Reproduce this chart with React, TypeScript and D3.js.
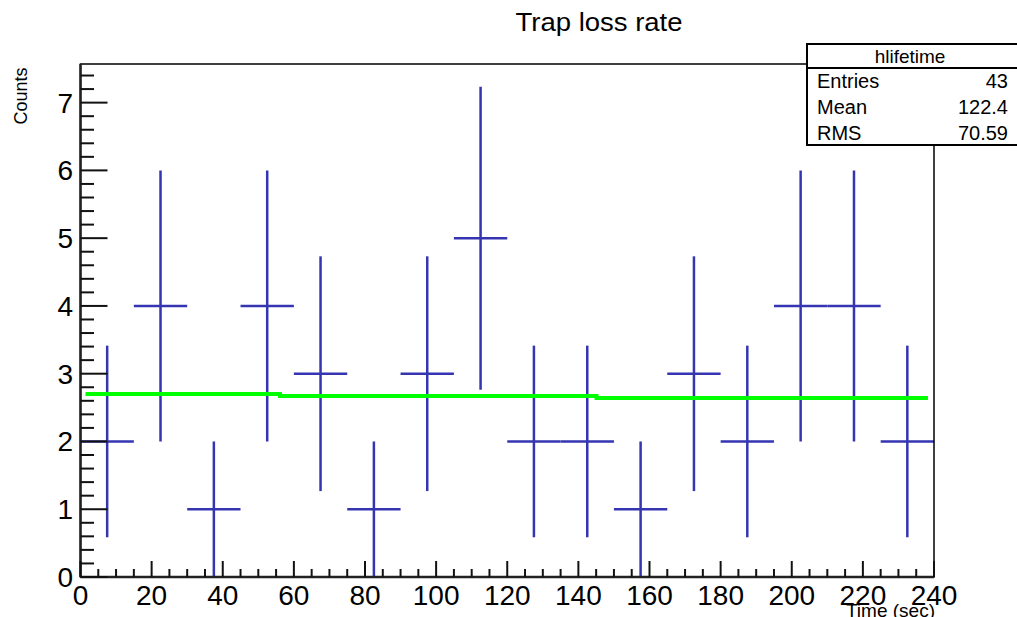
import React from "react";
import * as d3 from "d3";

const binEdgesStart = [0, 15, 30, 45, 60, 75, 90, 105, 120, 135, 150, 165, 180, 195, 210, 225];
const binWidth = 15;
const counts = [2, 4, 1, 4, 3, 1, 3, 5, 2, 2, 1, 3, 2, 4, 4, 2];
const errors = [1.414, 2, 1, 2, 1.732, 1, 1.732, 2.236, 1.414, 1.414, 1, 1.732, 1.414, 2, 2, 1.414];
const fitX = [1.4, 56.1, 56.1, 145.1, 145.1, 238.3];
const fitY = [2.7, 2.7, 2.67, 2.67, 2.64, 2.64];
const xTicks = [0, 20, 40, 60, 80, 100, 120, 140, 160, 180, 200, 220, 240];
const yTicks = [0, 1, 2, 3, 4, 5, 6, 7];
const statsLabels = ["Entries", "Mean", "RMS"];
const statsValues = ["43", "122.4", "70.59"];

const W = 1017;
const H = 617;
const L = 80.5, R = 934, T = 64, B = 577;
const FONT = "'Liberation Sans', Arial, Helvetica, sans-serif";

export default function App() {
  const x = d3.scaleLinear().domain([0, 240]).range([L, R]);
  const y = d3.scaleLinear().domain([0, 7.57]).range([B, T]);

  const xMinor = d3.range(0, 241, 5).filter((v) => v % 20 !== 0);
  const yMinor = d3.range(0, 7.57, 0.2).filter((v) => Math.abs(v - Math.round(v)) > 0.01);

  const fitLine = d3
    .line<number>()
    .x((_, i) => x(fitX[i]))
    .y((d) => y(d));

  const barColor = "#3535b2";

  return (
    <svg width={W} height={H} style={{ position: "absolute", left: 0, top: 0, background: "#fff" }} fontFamily={FONT}>
      <rect x={0} y={0} width={W} height={H} fill="#fff" />
      {/* title */}
      <text x={0} y={0} transform={`translate(599,31) scale(1.1,1)`} textAnchor="middle" fontSize={25} fill="#000">
        Trap loss rate
      </text>

      {/* histogram error bars */}
      <g stroke={barColor} strokeWidth={2.5} fill="none">
        {counts.map((c, i) => {
          const x0 = x(binEdgesStart[i]);
          const x1 = x(binEdgesStart[i] + binWidth);
          const xc = x(binEdgesStart[i] + binWidth / 2);
          const lo = Math.max(0, c - errors[i]);
          const hi = c + errors[i];
          return (
            <g key={i}>
              <line x1={x0} x2={x1} y1={y(c)} y2={y(c)} />
              <line x1={xc} x2={xc} y1={y(lo)} y2={y(hi)} />
            </g>
          );
        })}
      </g>

      {/* fit */}
      <path d={fitLine(fitY) || ""} stroke="#00ff00" strokeWidth={4} fill="none" />

      {/* frame */}
      <rect x={L} y={T} width={R - L} height={B - T} fill="none" stroke="#000" strokeWidth={1.5} />
      <line x1={L} x2={R} y1={B} y2={B} stroke="#222" strokeWidth={2.5} />
      <line x1={L} x2={L} y1={T} y2={B} stroke="#222" strokeWidth={2.5} />

      {/* x ticks */}
      <g stroke="#111" strokeWidth={2}>
        {xTicks.map((t) => (
          <line key={"xt" + t} x1={x(t)} x2={x(t)} y1={B} y2={B - 16} />
        ))}
        {xMinor.map((t) => (
          <line key={"xm" + t} x1={x(t)} x2={x(t)} y1={B} y2={B - 8} />
        ))}
        {yTicks.map((t) => (
          <line key={"yt" + t} x1={L} x2={L + 27} y1={y(t)} y2={y(t)} />
        ))}
        {yMinor.map((t, i) => (
          <line key={"ym" + i} x1={L} x2={L + 13.5} y1={y(t)} y2={y(t)} />
        ))}
      </g>

      {/* tick labels */}
      <g fontSize={28} fill="#000">
        {xTicks.map((t) => (
          <text key={"xl" + t} x={x(t)} y={605} textAnchor="middle">
            {t}
          </text>
        ))}
        {yTicks.map((t) => (
          <text key={"yl" + t} x={73} y={y(t) + 10} textAnchor="end">
            {t}
          </text>
        ))}
      </g>

      {/* axis titles */}
      <text transform="translate(27,96) rotate(-90)" textAnchor="middle" fontSize={18} fill="#000">
        Counts
      </text>
      <text x={935} y={617} textAnchor="end" fontSize={19} fill="#000">
        Time (sec)
      </text>

      {/* stats box */}
      <rect x={807} y={44} width={230} height={101} fill="#fff" stroke="#000" strokeWidth={2} />
      <line x1={807} x2={1017} y1={68} y2={68} stroke="#000" strokeWidth={2} />
      <text x={910} y={63} textAnchor="middle" fontSize={19} fill="#000">
        hlifetime
      </text>
      {statsLabels.map((lab, i) => (
        <g key={lab}>
          <text x={817} y={88 + i * 26} fontSize={20} fill="#000">
            {lab}
          </text>
          <text x={1008} y={88 + i * 26} fontSize={20} textAnchor="end" fill="#000">
            {statsValues[i]}
          </text>
        </g>
      ))}
    </svg>
  );
}
